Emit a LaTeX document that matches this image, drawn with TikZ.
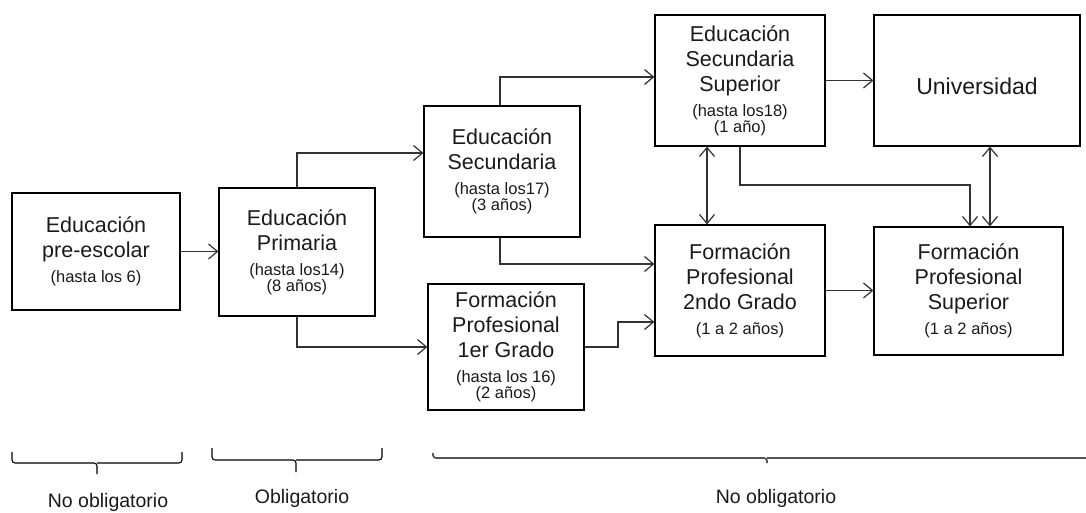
\documentclass[tikz,border=0pt]{standalone}
\usepackage{fontspec}
\setmainfont{Liberation Sans}
\usetikzlibrary{arrows.meta}
\newcommand\smtxt[1]{{\fontsize{16.5}{16}\selectfont #1}}
\definecolor{linec}{HTML}{333333}
\definecolor{bracec}{HTML}{555555}
\definecolor{txtc}{HTML}{1A1A1A}
\begin{document}
\begin{tikzpicture}[x=1pt,y=-1pt,
  box/.style={draw=black,line width=1.2pt,inner sep=0pt,align=center,text=txtc,
    font=\fontsize{21.5}{25}\selectfont},
  conn/.style={draw=linec,line width=1.2pt},
  arr/.style={conn,-{Straight Barb[length=9pt,width=15pt,line width=1.2pt]}},
  darr/.style={conn,{Straight Barb[length=9pt,width=15pt,line width=1.2pt]}-{Straight Barb[length=9pt,width=15pt,line width=1.2pt]}},
  bracepath/.style={draw=black,line width=1.1pt,rounded corners=3pt},
  lbl/.style={text=txtc,font=\fontsize{19.5}{22}\selectfont,inner sep=0pt}]
\useasboundingbox (0,0) rectangle (1086,513);

% boxes
\node[box,minimum width=168pt,minimum height=117pt] (A) at (96,251.5)
  {Educación\\pre-escolar\\\smtxt{(hasta los 6)}};
\node[box,minimum width=156pt,minimum height=128pt] (B) at (297,252)
  {Educación\\Primaria\\\smtxt{(hasta los14)}\\[-9pt]\smtxt{(8 años)}};
\node[box,minimum width=156pt,minimum height=131pt] (C) at (502,171.5)
  {Educación\\Secundaria\\\smtxt{(hasta los17)}\\[-9pt]\smtxt{(3 años)}};
\node[box,minimum width=156pt,minimum height=126pt] (D) at (506,347)
  {Formación\\Profesional\\1er Grado\\\smtxt{(hasta los 16)}\\[-9pt]\smtxt{(2 años)}};
\node[box,minimum width=170pt,minimum height=131pt] (E) at (740,80.5)
  {Educación\\Secundaria\\Superior\\\smtxt{(hasta los18)}\\[-9pt]\smtxt{(1 año)}};
\node[box,minimum width=206pt,minimum height=131pt] (F) at (977,80.5) {};
\node[text=txtc,font=\fontsize{23}{26}\selectfont,inner sep=0pt] (Ft) at ([yshift=-6pt]F.center) {Universidad};
\node[box,minimum width=170pt,minimum height=131pt] (G) at (740,290.5)
  {Formación\\Profesional\\2ndo Grado\\\smtxt{(1 a 2 años)}};
\node[box,minimum width=189pt,minimum height=128pt] (H) at (968.5,291)
  {Formación\\Profesional\\Superior\\\smtxt{(1 a 2 años)}};

% connectors
\draw[arr] (A.east) -- (B.west |- A.east);
\draw[arr] (B.north) -- (B.north |- 0,153) -- (C.west |- 0,153);
\draw[arr] (B.south) |- (D.west);
\draw[arr] (C.north -| 500,0) -- (500,77) -- (E.west |- 0,77);
\draw[arr] (C.south -| 500,0) -- (500,264) -- (G.west |- 0,264);
\draw[arr] (D.east) -- (618,347) -- (618,322) -- (G.west |- 0,322);
\draw[arr] (E.east) -- (F.west |- E.east);
\draw[darr] (E.south -| 707,0) -- (G.north -| 707,0);
\draw[arr] (E.south) -- (740,185) -- (970,185) -- (H.north -| 970,0);
\draw[darr] (F.south -| 990,0) -- (H.north -| 990,0);
\draw[arr] (G.east) -- (H.west |- G.east);

% braces
\draw[bracepath] (12,452) |- (97,463) -- (97,474);
\draw[bracepath] (182,452) |- (97,463);
\draw[bracepath] (212,448) |- (296,460) -- (296,472);
\draw[bracepath] (382,448) |- (296,460);
\draw[bracepath,draw=bracec,line width=1.8pt] (433,453) |- (767,458) -- (767,463);
\draw[bracepath,draw=bracec,line width=1.8pt] (1100,453) |- (767,458);

% labels
\node[lbl] (l1) at (108,502) {No obligatorio};
\node[lbl] (l2) at (302,498) {Obligatorio};
\node[lbl] (l3) at (776,498) {No obligatorio};
\end{tikzpicture}
\end{document}
